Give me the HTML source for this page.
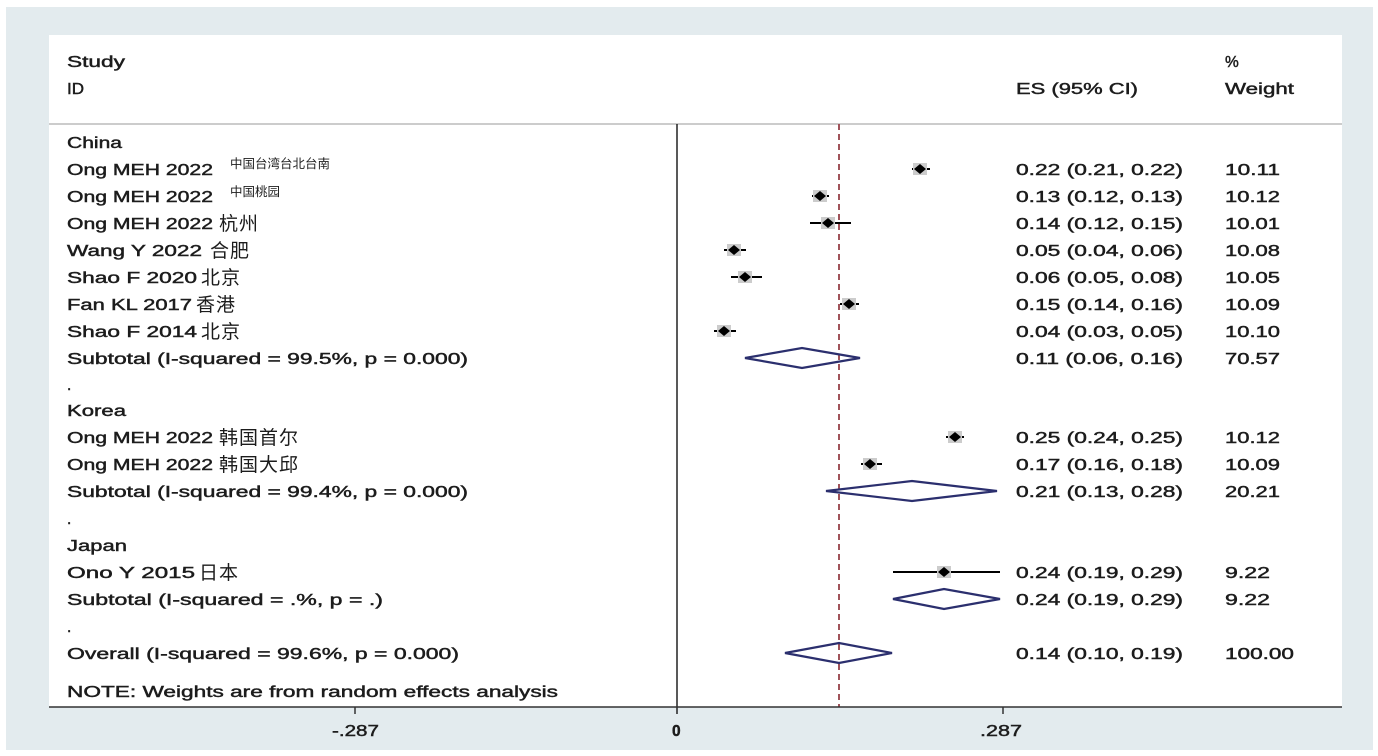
<!DOCTYPE html>
<html><head><meta charset="utf-8"><style>
html,body{margin:0;padding:0;background:#fff;}
svg{display:block}
text{font-family:"Liberation Sans","Noto Sans CJK SC",sans-serif;fill:#1c1c1c;}
.t{font-size:15.5px;stroke:#1c1c1c;stroke-width:0.45px;}
.c{font-size:19px;letter-spacing:1px;}
.s{font-size:12.5px;}
.pt{fill:#000;}
</style></head><body>
<svg width="1378" height="756" viewBox="0 0 1378 756">
<rect x="0" y="0" width="1378" height="756" fill="#fff"/>
<rect x="6" y="7" width="1367" height="743" fill="#e3ebee"/>
<rect x="49" y="35" width="1293" height="672" fill="#fff"/>
<line x1="49" y1="124" x2="1342" y2="124" stroke="#bbb" stroke-width="1.5"/>
<line x1="677" y1="124" x2="677" y2="714" stroke="#222" stroke-width="1.5"/>
<line x1="839" y1="124" x2="839" y2="707" stroke="#a0535a" stroke-width="2" stroke-dasharray="6,4"/>
<line x1="49" y1="707" x2="1342" y2="707" stroke="#333" stroke-width="1.5"/>
<line x1="355" y1="707" x2="355" y2="714" stroke="#333" stroke-width="1.5"/>
<line x1="1003" y1="707" x2="1003" y2="714" stroke="#333" stroke-width="1.5"/>
<g class="t">
<text x="332" y="736" textLength="47" lengthAdjust="spacingAndGlyphs">-.287</text>
<text x="672" y="736" font-weight="bold">0</text>
<text x="980" y="736" textLength="42" lengthAdjust="spacingAndGlyphs">.287</text>
<text x="67" y="67" textLength="58" lengthAdjust="spacingAndGlyphs">Study</text>
<text x="67" y="94" textLength="17" lengthAdjust="spacingAndGlyphs">ID</text>
<text x="1016" y="94" textLength="122" lengthAdjust="spacingAndGlyphs">ES (95% CI)</text>
<text x="1225" y="67">%</text>
<text x="1225" y="94" textLength="69" lengthAdjust="spacingAndGlyphs">Weight</text>
<text x="67" y="148" textLength="55" lengthAdjust="spacingAndGlyphs">China</text>
<text x="67" y="175" textLength="146" lengthAdjust="spacingAndGlyphs">Ong MEH 2022</text>
<text x="67" y="202" textLength="146" lengthAdjust="spacingAndGlyphs">Ong MEH 2022</text>
<text x="67" y="229" textLength="146" lengthAdjust="spacingAndGlyphs">Ong MEH 2022</text>
<text x="67" y="256" textLength="135" lengthAdjust="spacingAndGlyphs">Wang Y 2022</text>
<text x="67" y="283" textLength="130" lengthAdjust="spacingAndGlyphs">Shao F 2020</text>
<text x="67" y="310" textLength="125" lengthAdjust="spacingAndGlyphs">Fan KL 2017</text>
<text x="67" y="337" textLength="130" lengthAdjust="spacingAndGlyphs">Shao F 2014</text>
<text x="67" y="364" textLength="401" lengthAdjust="spacingAndGlyphs">Subtotal  (I-squared = 99.5%, p = 0.000)</text>
<text x="67" y="390">.</text>
<text x="67" y="416" textLength="59" lengthAdjust="spacingAndGlyphs">Korea</text>
<text x="67" y="443" textLength="146" lengthAdjust="spacingAndGlyphs">Ong MEH 2022</text>
<text x="67" y="470" textLength="146" lengthAdjust="spacingAndGlyphs">Ong MEH 2022</text>
<text x="67" y="497" textLength="401" lengthAdjust="spacingAndGlyphs">Subtotal  (I-squared = 99.4%, p = 0.000)</text>
<text x="67" y="524">.</text>
<text x="67" y="551" textLength="60" lengthAdjust="spacingAndGlyphs">Japan</text>
<text x="67" y="578" textLength="128" lengthAdjust="spacingAndGlyphs">Ono Y 2015</text>
<text x="67" y="605" textLength="316" lengthAdjust="spacingAndGlyphs">Subtotal  (I-squared = .%, p = .)</text>
<text x="67" y="632">.</text>
<text x="67" y="659" textLength="392" lengthAdjust="spacingAndGlyphs">Overall  (I-squared = 99.6%, p = 0.000)</text>
<text x="67" y="697" textLength="491" lengthAdjust="spacingAndGlyphs">NOTE: Weights are from random effects analysis</text>
<text x="1016" y="175" textLength="167" lengthAdjust="spacingAndGlyphs">0.22 (0.21, 0.22)</text><text x="1225" y="175" textLength="55" lengthAdjust="spacingAndGlyphs">10.11</text>
<text x="1016" y="202" textLength="167" lengthAdjust="spacingAndGlyphs">0.13 (0.12, 0.13)</text><text x="1225" y="202" textLength="55" lengthAdjust="spacingAndGlyphs">10.12</text>
<text x="1016" y="229" textLength="167" lengthAdjust="spacingAndGlyphs">0.14 (0.12, 0.15)</text><text x="1225" y="229" textLength="55" lengthAdjust="spacingAndGlyphs">10.01</text>
<text x="1016" y="256" textLength="167" lengthAdjust="spacingAndGlyphs">0.05 (0.04, 0.06)</text><text x="1225" y="256" textLength="55" lengthAdjust="spacingAndGlyphs">10.08</text>
<text x="1016" y="283" textLength="167" lengthAdjust="spacingAndGlyphs">0.06 (0.05, 0.08)</text><text x="1225" y="283" textLength="55" lengthAdjust="spacingAndGlyphs">10.05</text>
<text x="1016" y="310" textLength="167" lengthAdjust="spacingAndGlyphs">0.15 (0.14, 0.16)</text><text x="1225" y="310" textLength="55" lengthAdjust="spacingAndGlyphs">10.09</text>
<text x="1016" y="337" textLength="167" lengthAdjust="spacingAndGlyphs">0.04 (0.03, 0.05)</text><text x="1225" y="337" textLength="55" lengthAdjust="spacingAndGlyphs">10.10</text>
<text x="1016" y="364" textLength="167" lengthAdjust="spacingAndGlyphs">0.11 (0.06, 0.16)</text><text x="1225" y="364" textLength="55" lengthAdjust="spacingAndGlyphs">70.57</text>
<text x="1016" y="443" textLength="167" lengthAdjust="spacingAndGlyphs">0.25 (0.24, 0.25)</text><text x="1225" y="443" textLength="55" lengthAdjust="spacingAndGlyphs">10.12</text>
<text x="1016" y="470" textLength="167" lengthAdjust="spacingAndGlyphs">0.17 (0.16, 0.18)</text><text x="1225" y="470" textLength="55" lengthAdjust="spacingAndGlyphs">10.09</text>
<text x="1016" y="497" textLength="167" lengthAdjust="spacingAndGlyphs">0.21 (0.13, 0.28)</text><text x="1225" y="497" textLength="55" lengthAdjust="spacingAndGlyphs">20.21</text>
<text x="1016" y="578" textLength="167" lengthAdjust="spacingAndGlyphs">0.24 (0.19, 0.29)</text><text x="1225" y="578" textLength="45" lengthAdjust="spacingAndGlyphs">9.22</text>
<text x="1016" y="605" textLength="167" lengthAdjust="spacingAndGlyphs">0.24 (0.19, 0.29)</text><text x="1225" y="605" textLength="45" lengthAdjust="spacingAndGlyphs">9.22</text>
<text x="1016" y="659" textLength="167" lengthAdjust="spacingAndGlyphs">0.14 (0.10, 0.19)</text><text x="1225" y="659" textLength="69" lengthAdjust="spacingAndGlyphs">100.00</text>
</g>
<g class="c">
<text x="219" y="230">杭州</text>
<text x="210" y="257">合肥</text>
<text x="201" y="284">北京</text>
<text x="196" y="311">香港</text>
<text x="201" y="338">北京</text>
<text x="219" y="444">韩国首尔</text>
<text x="219" y="471">韩国大邱</text>
<text x="199" y="579">日本</text>
</g>
<text class="s" x="230" y="168">中国台湾台北台南</text>
<text class="s" x="230" y="196">中国桃园</text>
<g stroke="#000" stroke-width="2">
<line x1="912" y1="169" x2="930" y2="169"/>
<line x1="812" y1="196" x2="829" y2="196"/>
<line x1="810" y1="223" x2="851" y2="223"/>
<line x1="724" y1="250" x2="746" y2="250"/>
<line x1="731" y1="277" x2="762" y2="277"/>
<line x1="840" y1="304" x2="859" y2="304"/>
<line x1="714" y1="331" x2="736" y2="331"/>
<line x1="946" y1="437" x2="964" y2="437"/>
<line x1="861" y1="464" x2="882" y2="464"/>
<line x1="893" y1="572" x2="1000" y2="572"/>
</g>
<g class="pt">
<rect x="913" y="163" width="14" height="12" fill="#ccc"/><polygon points="920,164 926,169 920,174 914,169"/>
<rect x="813" y="190" width="14" height="12" fill="#ccc"/><polygon points="820,191 826,196 820,201 814,196"/>
<rect x="821" y="217" width="14" height="12" fill="#ccc"/><polygon points="828,218 834,223 828,228 822,223"/>
<rect x="727" y="244" width="14" height="12" fill="#ccc"/><polygon points="734,245 740,250 734,255 728,250"/>
<rect x="738" y="271" width="14" height="12" fill="#ccc"/><polygon points="745,272 751,277 745,282 739,277"/>
<rect x="842" y="298" width="14" height="12" fill="#ccc"/><polygon points="849,299 855,304 849,309 843,304"/>
<rect x="717" y="325" width="14" height="12" fill="#ccc"/><polygon points="724,326 730,331 724,336 718,331"/>
<rect x="948" y="431" width="14" height="12" fill="#ccc"/><polygon points="955,432 961,437 955,442 949,437"/>
<rect x="863" y="458" width="14" height="12" fill="#ccc"/><polygon points="870,459 876,464 870,469 864,464"/>
<rect x="937" y="566" width="14" height="12" fill="#ccc"/><polygon points="944,567 950,572 944,577 938,572"/>
</g>
<g fill="none" stroke="#2b2f6e" stroke-width="2.2">
<polygon points="745,358 802,348 860,358 802,368"/>
<polygon points="826,491 912,481 997,491 912,501"/>
<polygon points="893,599 944,589 1000,599 944,609"/>
<polygon points="785,653 839,643 892,653 839,663"/>
</g>
</svg>
</body></html>
